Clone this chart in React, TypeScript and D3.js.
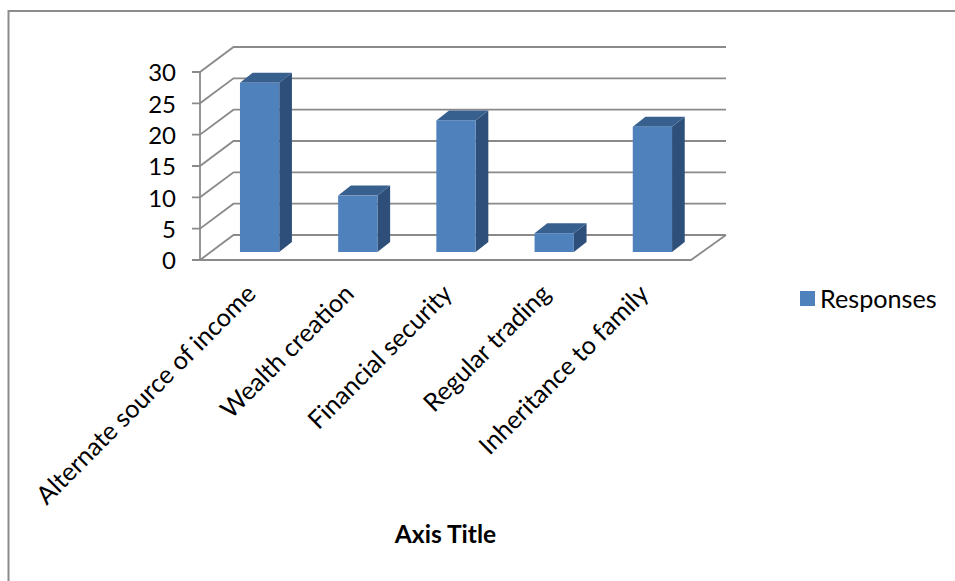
import React from "react";
import * as d3 from "d3";

const categories = ["Alternate source of income", "Wealth creation", "Financial security", "Regular trading", "Inheritance to family"];
const responses = [27, 9, 21, 3, 20];
const yTicks = [0, 5, 10, 15, 20, 25, 30];
const seriesName = "Responses";
const xTitle = "Axis Title";

const W = 955, H = 581;
const FONT = "Lato, Carlito, 'Open Sans', sans-serif";
const GRID = "#8a8a8a";
const depthX = 33.5, depthY = 25;
const barDX = 12.7, barDY = 10;
const floorY = 260, topY = 72;
const leftX = 200, rightX = 691;

const x = d3.scaleBand<string>().domain(categories).range([leftX, rightX]).paddingInner(0.6).paddingOuter(0.3);
const y = d3.scaleLinear().domain([0, 30]).range([floorY, topY]);
const poly = (pts: [number, number][]) => d3.line()(pts) + "Z";

export default function App() {
  const barShift = 10.5;
  const barDrop = -8;
  return (
    <svg width={W} height={H} viewBox={`0 0 ${W} ${H}`} style={{ position: "absolute", left: 0, top: 0, background: "#fff" }}>
      <defs>
        <filter id="soft" x="-5%" y="-5%" width="110%" height="110%"><feGaussianBlur stdDeviation="0.45" /></filter>
      </defs>
      <path d={`M8.5,581V11H955`} fill="none" stroke="#8c8c8c" strokeWidth={2} />
      <g filter="url(#soft)">
        {yTicks.map((t) => (
          <g key={t} fill="none" stroke={GRID} strokeWidth={1.8}>
            <path d={`M${leftX - 8},${y(t)}H${leftX}L${leftX + depthX},${y(t) - depthY}H${rightX + depthX + 1.5}`} />
          </g>
        ))}
        <path d={`M${leftX},${topY}V${floorY}H${rightX}L${rightX + depthX + 1.5},${floorY - depthY}`} fill="none" stroke={GRID} strokeWidth={1.8} />
        {categories.map((c, i) => {
          const x0 = x(c)! + barShift, x1 = x0 + x.bandwidth();
          const y0 = floorY + barDrop, y1 = y(responses[i]) + barDrop;
          return (
            <g key={c}>
              <path d={poly([[x1, y1], [x1 + barDX, y1 - barDY], [x1 + barDX, y0 - barDY], [x1, y0]])} fill="#2f5079" />
              <path d={poly([[x0, y1], [x0 + barDX, y1 - barDY], [x1 + barDX, y1 - barDY], [x1, y1]])} fill="#38608f" />
              <rect x={x0} y={y1} width={x.bandwidth()} height={y0 - y1} fill="#4f81bd" />
            </g>
          );
        })}
      </g>
      {yTicks.map((t) => (
        <text key={t} x={176} y={y(t) + 1} dy="0.35em" textAnchor="end" fontFamily={FONT} fontSize={24} fill="#000">{t}</text>
      ))}
      {categories.map((c) => (
        <text key={c} transform={`translate(${x(c)! + x.bandwidth() / 2 + 2},${floorY + 29}) rotate(-45)`} textAnchor="end" dy="0.35em" fontFamily={FONT} fontSize={25.2} fill="#000">{c}</text>
      ))}
      <text x={445.5} y={534} dy="0.35em" textAnchor="middle" fontFamily={FONT} fontSize={24.6} fontWeight={700} fill="#000">{xTitle}</text>
      <rect x={800} y={291} width={15} height={15} fill="#4f81bd" />
      <text x={820} y={299} dy="0.35em" fontFamily={FONT} fontSize={25.2} fill="#000">{seriesName}</text>
    </svg>
  );
}
